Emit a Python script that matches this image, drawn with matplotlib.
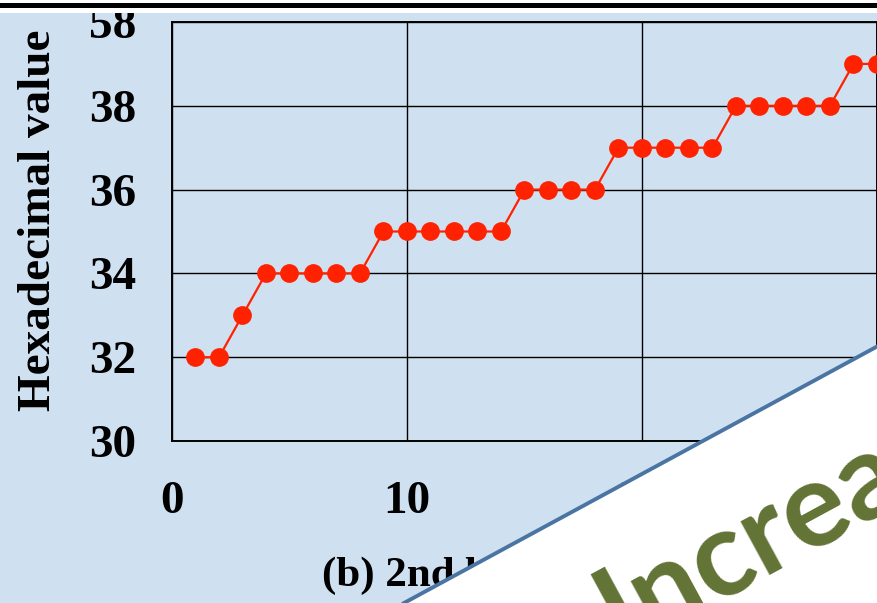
import matplotlib
matplotlib.use("Agg")
import matplotlib.pyplot as plt
from matplotlib.patches import Polygon, Rectangle
from matplotlib.lines import Line2D

# data
sample_idx = list(range(1, 31))
hex_value = [32, 32, 33, 34, 34, 34, 34, 34,
             35, 35, 35, 35, 35, 35,
             36, 36, 36, 36,
             37, 37, 37, 37, 37,
             38, 38, 38, 38, 38,
             39, 39]
y_ticks = [30, 32, 34, 36, 38, 40]
y_tick_labels = ["30", "32", "34", "36", "38", "58"]
x_ticks = [0, 10, 20, 30]
x_tick_labels = ["0", "10", "20", "30"]

bg = "#cfe0f1"
W, H = 878, 603

fig = plt.figure(figsize=(W / 100, H / 100), dpi=100, facecolor=bg)
ax = fig.add_axes([172 / W, 1 - 441 / H, 705 / W, 419 / H], facecolor=bg)

ax.plot(sample_idx, hex_value, color="#ff2200", lw=1.6, marker="o",
        markersize=13.5, markeredgewidth=0, clip_on=False, zorder=3)

ax.set_xlim(0, 30)
ax.set_ylim(30, 40)
ax.set_xticks(x_ticks)
ax.set_xticklabels(x_tick_labels)
ax.set_yticks(y_ticks)
ax.set_yticklabels(y_tick_labels)
ax.grid(True, color="black", lw=1.0)
ax.set_axisbelow(True)
for s in ax.spines.values():
    s.set_color("black")
    s.set_linewidth(1.4)

serif = {"family": "Liberation Serif", "weight": "bold"}
ax.tick_params(length=0, labelsize=34)
ax.tick_params(axis="y", pad=26)
ax.tick_params(axis="x", pad=29)
for lab in ax.get_xticklabels() + ax.get_yticklabels():
    lab.set_fontfamily("Liberation Serif")
    lab.set_fontweight("bold")

ax.set_ylabel("Hexadecimal value", fontdict=serif, fontsize=34)
ax.yaxis.label.set_va("center")
ax.yaxis.set_label_coords((39 - 172) / 705, (441 - 220) / 419)

# caption under the chart (partly hidden by the overlay)
fig.text(322 / W, 1 - 576 / H, "(b) 2nd byte", fontdict=serif, fontsize=31,
         ha="left", va="center", zorder=0.5)

# white band with black rule at the top
fig.patches.append(Rectangle((0, 1 - 13 / H), 1, 13 / H, transform=fig.transFigure,
                             facecolor="white", edgecolor="none", zorder=2))
fig.patches.append(Rectangle((0, 1 - 8 / H), 1, 5 / H, transform=fig.transFigure,
                             facecolor="black", edgecolor="none", zorder=2.1))

# diagonal white overlay in the lower right corner
p0 = (404 / W, 0.0)
p1 = (1.0, 1 - 346 / H)
fig.patches.append(Polygon([p0, p1, (1.0, 0.0)], closed=True, transform=fig.transFigure,
                           facecolor="white", edgecolor="none", zorder=2))
fig.lines.append(Line2D([p0[0], p1[0]], [p0[1], p1[1]], transform=fig.transFigure,
                        color="#4a74a2", lw=2.8, zorder=2.2))
fig.text(622 / W, 1 - 650 / H, "Increase", family="Lato", weight="bold",
         fontsize=86, color="#627335", rotation=28.5, rotation_mode="anchor",
         ha="left", va="baseline", zorder=3)

fig.savefig("out.png", dpi=100, facecolor=bg)
